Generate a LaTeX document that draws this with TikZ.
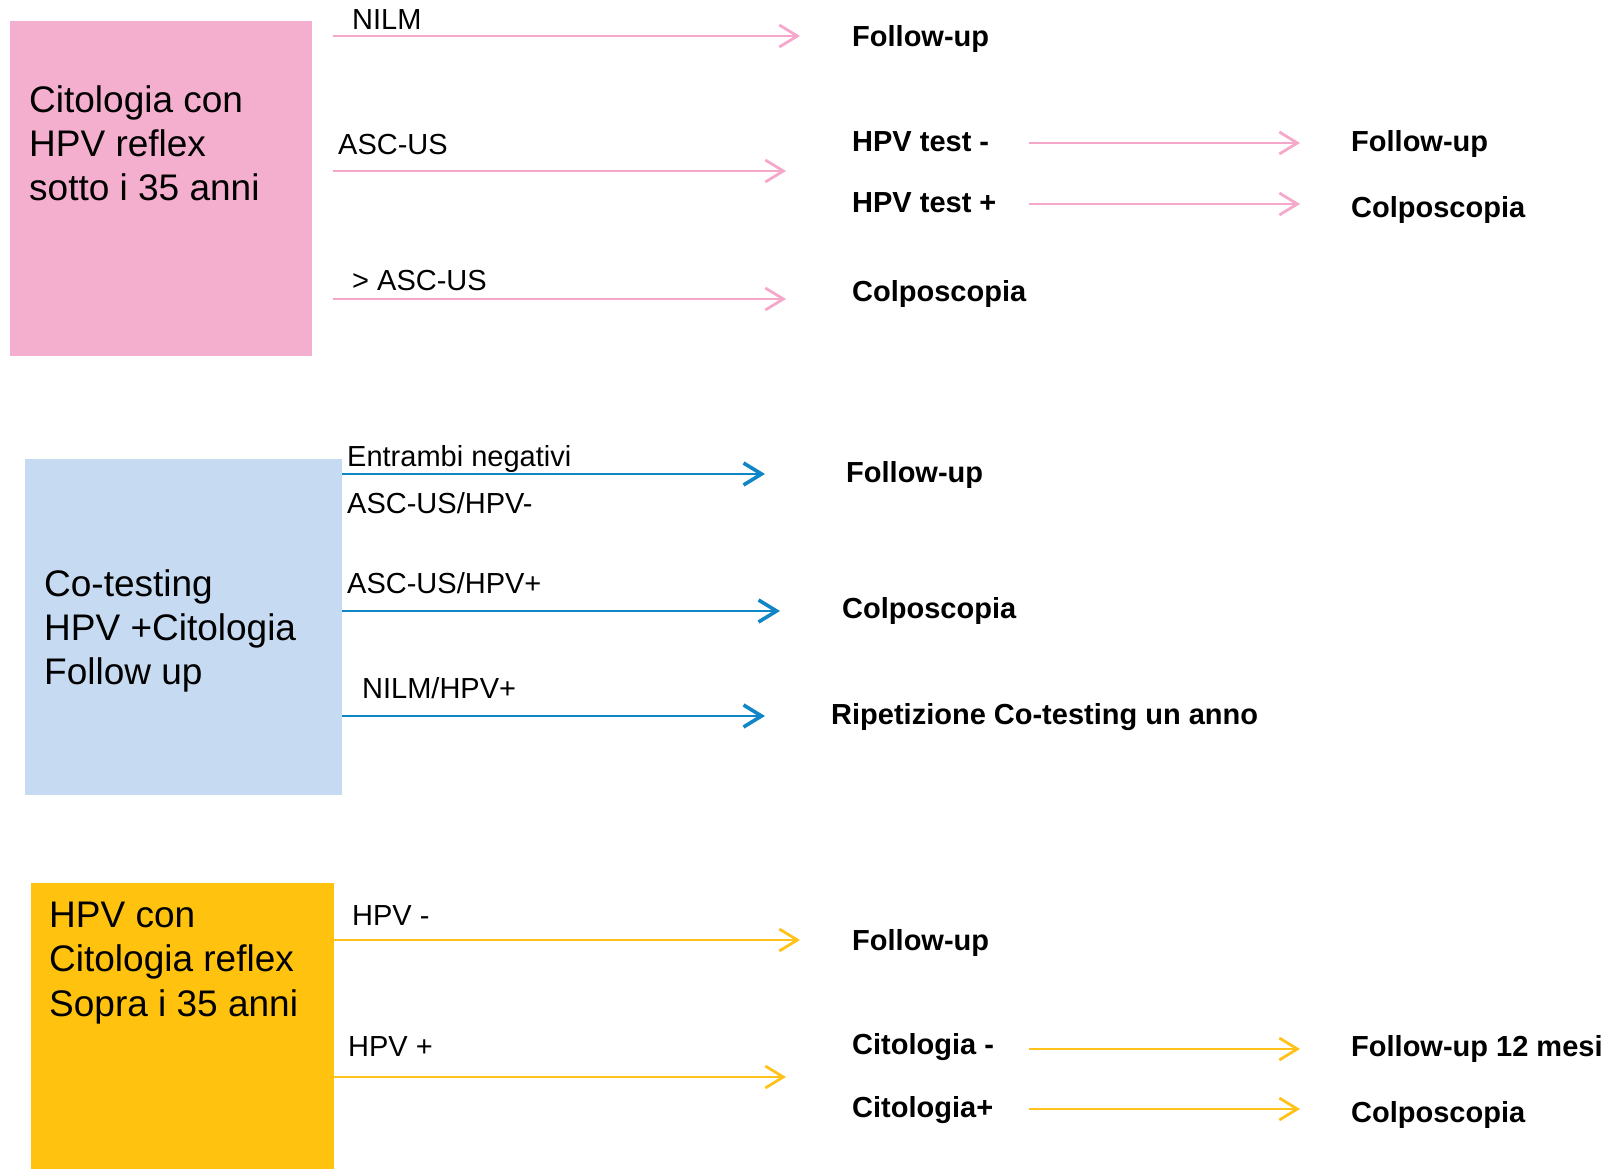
\documentclass[tikz,border=0pt]{standalone}
\usepackage{fontspec}
\setmainfont{Liberation Sans}
\usetikzlibrary{arrows.meta}
\definecolor{pinkbox}{HTML}{F4AECE}
\definecolor{pinkline}{HTML}{F5A8CA}
\definecolor{bluebox}{HTML}{C6DAF2}
\definecolor{blueline}{HTML}{1186C6}
\definecolor{yellowbox}{HTML}{FFC20F}
\definecolor{yellowline}{HTML}{FFC21A}
\begin{document}
\begin{tikzpicture}[x=1pt,y=-1pt,
  panel/.style={anchor=north west, inner sep=0pt, outer sep=0pt},
  boxtxt/.style={anchor=north west, inner sep=0pt, align=left, font=\fontsize{37}{44.3}\selectfont},
  lbl/.style={anchor=base west, inner sep=0pt, font=\fontsize{29}{34}\selectfont},
  res/.style={anchor=base west, inner sep=0pt, font=\fontsize{29}{34}\selectfont\bfseries},
  arr/.style={line width=2.6pt, -{Straight Barb[length=18pt,width=22pt,line width=2.8pt]}},
  barr/.style={line width=2.8pt, -{Straight Barb[length=18pt,width=22pt,line width=3.6pt]}}]
\useasboundingbox (0,0) rectangle (1615,1169);

% ---------- pink panel ----------
\node[panel, fill=pinkbox, minimum width=302pt, minimum height=335pt] (pbox) at (10,21) {};
\node[boxtxt] (ptxt) at (29,85) {Citologia con\\HPV reflex\\sotto i 35 anni};
\node[lbl] (pl1) at (352,30) {NILM};
\node[lbl] (pl2) at (338,154.5) {ASC-US};
\node[lbl] (pl3) at (352,290.5) {> ASC-US};
\node[res] (pr1) at (852,46.5) {Follow-up};
\node[res] (pr2) at (852,151.5) {HPV test -};
\node[res] (pr3) at (852,212.5) {HPV test +};
\node[res] (pr4) at (852,301.5) {Colposcopia};
\node[res] (pr5) at (1351,151.5) {Follow-up};
\node[res] (pr6) at (1351,217.5) {Colposcopia};
\coordinate (pa1s) at (333,36);   \coordinate (pa1e) at (800,36);
\coordinate (pa2s) at (333,171);  \coordinate (pa2e) at (786,171);
\coordinate (pa3s) at (333,299);  \coordinate (pa3e) at (786,299);
\coordinate (pa4s) at (1029,143); \coordinate (pa4e) at (1300,143);
\coordinate (pa5s) at (1029,204); \coordinate (pa5e) at (1300,204);
\foreach \i in {1,...,5}{\draw[arr, pinkline] (pa\i s) -- (pa\i e);}

% ---------- blue panel ----------
\node[panel, fill=bluebox, minimum width=317pt, minimum height=336pt] (bbox) at (25,459) {};
\node[boxtxt] (btxt) at (44,569) {Co-testing\\HPV +Citologia\\Follow up};
\node[lbl] (bl1) at (347,466.5) {Entrambi negativi};
\node[lbl] (bl2) at (347,513.5) {ASC-US/HPV-};
\node[lbl] (bl3) at (347,593.5) {ASC-US/HPV+};
\node[lbl] (bl4) at (362,698.5) {NILM/HPV+};
\node[res] (br1) at (846,482.5) {Follow-up};
\node[res] (br2) at (842,618.5) {Colposcopia};
\node[res] (br3) at (831,724.5) {Ripetizione Co-testing un anno};
\coordinate (ba1s) at (342,474); \coordinate (ba1e) at (765,474);
\coordinate (ba2s) at (342,611); \coordinate (ba2e) at (780,611);
\coordinate (ba3s) at (342,716); \coordinate (ba3e) at (765,716);
\foreach \i in {1,2,3}{\draw[barr, blueline] (ba\i s) -- (ba\i e);}

% ---------- yellow panel ----------
\node[panel, fill=yellowbox, minimum width=303pt, minimum height=286pt] (ybox) at (31,883) {};
\node[boxtxt] (ytxt) at (49,902) {HPV con\\Citologia reflex\\Sopra i 35 anni};
\node[lbl] (yl1) at (352,925.5) {HPV -};
\node[lbl] (yl2) at (348,1056.5) {HPV +};
\node[res] (yr1) at (852,950.5) {Follow-up};
\node[res] (yr2) at (852,1054.5) {Citologia -};
\node[res] (yr3) at (852,1117.5) {Citologia+};
\node[res] (yr4) at (1351,1056.5) {Follow-up 12 mesi};
\node[res] (yr5) at (1351,1122.5) {Colposcopia};
\coordinate (ya1s) at (334,940);   \coordinate (ya1e) at (800,940);
\coordinate (ya2s) at (334,1077);  \coordinate (ya2e) at (786,1077);
\coordinate (ya3s) at (1029,1049); \coordinate (ya3e) at (1300,1049);
\coordinate (ya4s) at (1029,1109); \coordinate (ya4e) at (1300,1109);
\foreach \i in {1,...,4}{\draw[arr, yellowline] (ya\i s) -- (ya\i e);}
\end{tikzpicture}
\end{document}
